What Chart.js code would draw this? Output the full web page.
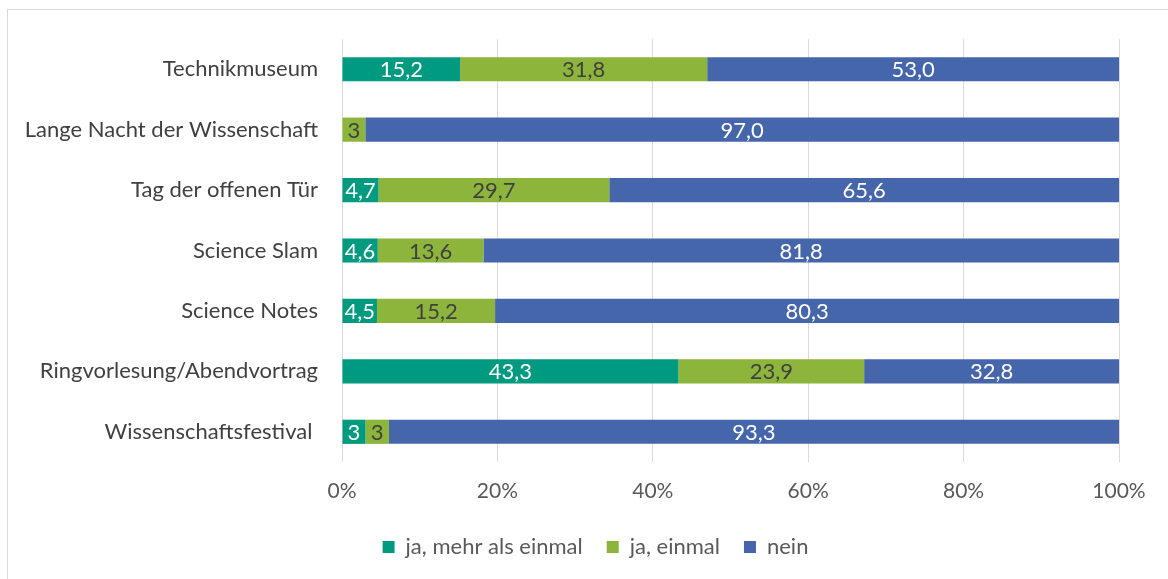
<!DOCTYPE html>
<html><head><meta charset="utf-8">
<script src="https://cdn.jsdelivr.net/npm/chart.js@4/dist/chart.umd.min.js"></script>
<style>
html,body{margin:0;padding:0;background:#fff;overflow:hidden;}
#frame{position:absolute;left:7px;top:9px;width:1200px;height:600px;border:1px solid #d9d9d9;}
#wrap{position:absolute;left:0;top:0;width:1168px;height:579px;}
</style></head><body>
<div id="frame"></div>
<div id="wrap"><canvas id="c" width="1168" height="579"></canvas></div>
<script>
const categories = ["Technikmuseum","Lange Nacht der Wissenschaft","Tag der offenen Tür","Science Slam","Science Notes","Ringvorlesung/Abendvortrag","Wissenschaftsfestival "];
const mehrAlsEinmal = [15.2, 0, 4.7, 4.6, 4.5, 43.3, 3];
const einmal        = [31.8, 3, 29.7, 13.6, 15.2, 23.9, 3];
const nein          = [53.0, 97.0, 65.6, 81.8, 80.3, 32.8, 93.3];
const mehrLabels   = ["15,2","","4,7","4,6","4,5","43,3","3"];
const einmalLabels = ["31,8","3","29,7","13,6","15,2","23,9","3"];
const neinLabels   = ["53,0","97,0","65,6","81,8","80,3","32,8","93,3"];
const xTicks = ["0%","20%","40%","60%","80%","100%"];

const FONT = "Lato, 'Open Sans', sans-serif";
const totals = categories.map((_, i) => mehrAlsEinmal[i] + einmal[i] + nein[i]);
const share = arr => arr.map((v, i) => v / totals[i] * 100);

const labelPlugin = {
  id: 'barLabels',
  afterLayout(chart) {
    if (chart.legend) { chart.legend.left += 36; chart.legend.right += 36; }
  },
  afterDatasetsDraw(chart) {
    const ctx = chart.ctx;
    ctx.save();
    ctx.font = "22px " + FONT;
    ctx.textAlign = 'center';
    ctx.textBaseline = 'middle';
    chart.data.datasets.forEach((ds, di) => {
      const meta = chart.getDatasetMeta(di);
      meta.data.forEach((bar, i) => {
        const txt = ds.labelsText[i];
        if (!txt) return;
        const cx = (bar.x + bar.base) / 2;
        ctx.fillStyle = ds.labelColor;
        ctx.fillText(txt, cx, bar.y + 1);
      });
    });
    ctx.restore();
  }
};

new Chart(document.getElementById('c'), {
  type: 'bar',
  data: {
    labels: categories,
    datasets: [
      {label: "ja, mehr als einmal", data: share(mehrAlsEinmal), backgroundColor: "#009A80", labelsText: mehrLabels, labelColor: "#ffffff"},
      {label: "ja, einmal", data: share(einmal), backgroundColor: "#8DB43B", labelsText: einmalLabels, labelColor: "#404040"},
      {label: "nein", data: share(nein), backgroundColor: "#4666AC", labelsText: neinLabels, labelColor: "#ffffff"}
    ]
  },
  plugins: [labelPlugin],
  options: {
    indexAxis: 'y',
    responsive: false,
    animation: false,
    layout: {padding: {left: 0, right: 49, top: 39, bottom: 11}},
    datasets: {bar: {categoryPercentage: 1, barPercentage: 0.4, borderWidth: 0}},
    scales: {
      x: {
        stacked: true, min: 0, max: 100,
        grid: {color: "#d9d9d9", drawTicks: false, lineWidth: 1},
        border: {display: false},
        ticks: {stepSize: 20, padding: 17, color: "#595959", font: {family: FONT, size: 21},
          callback: (v, i) => xTicks[i]},
        afterFit(s) { s.height = 50; }
      },
      y: {
        stacked: true,
        grid: {display: false, drawTicks: false},
        border: {display: false},
        ticks: {padding: 24, color: "#404040", font: {family: FONT, size: 22}},
        afterFit(s) { s.width = 342; }
      }
    },
    plugins: {
      legend: {
        position: 'bottom',
        labels: {boxWidth: 12, boxHeight: 12, padding: 24, color: "#595959", font: {family: FONT, size: 22}}
      },
      tooltip: {enabled: false}
    }
  }
});
</script>
</body></html>
